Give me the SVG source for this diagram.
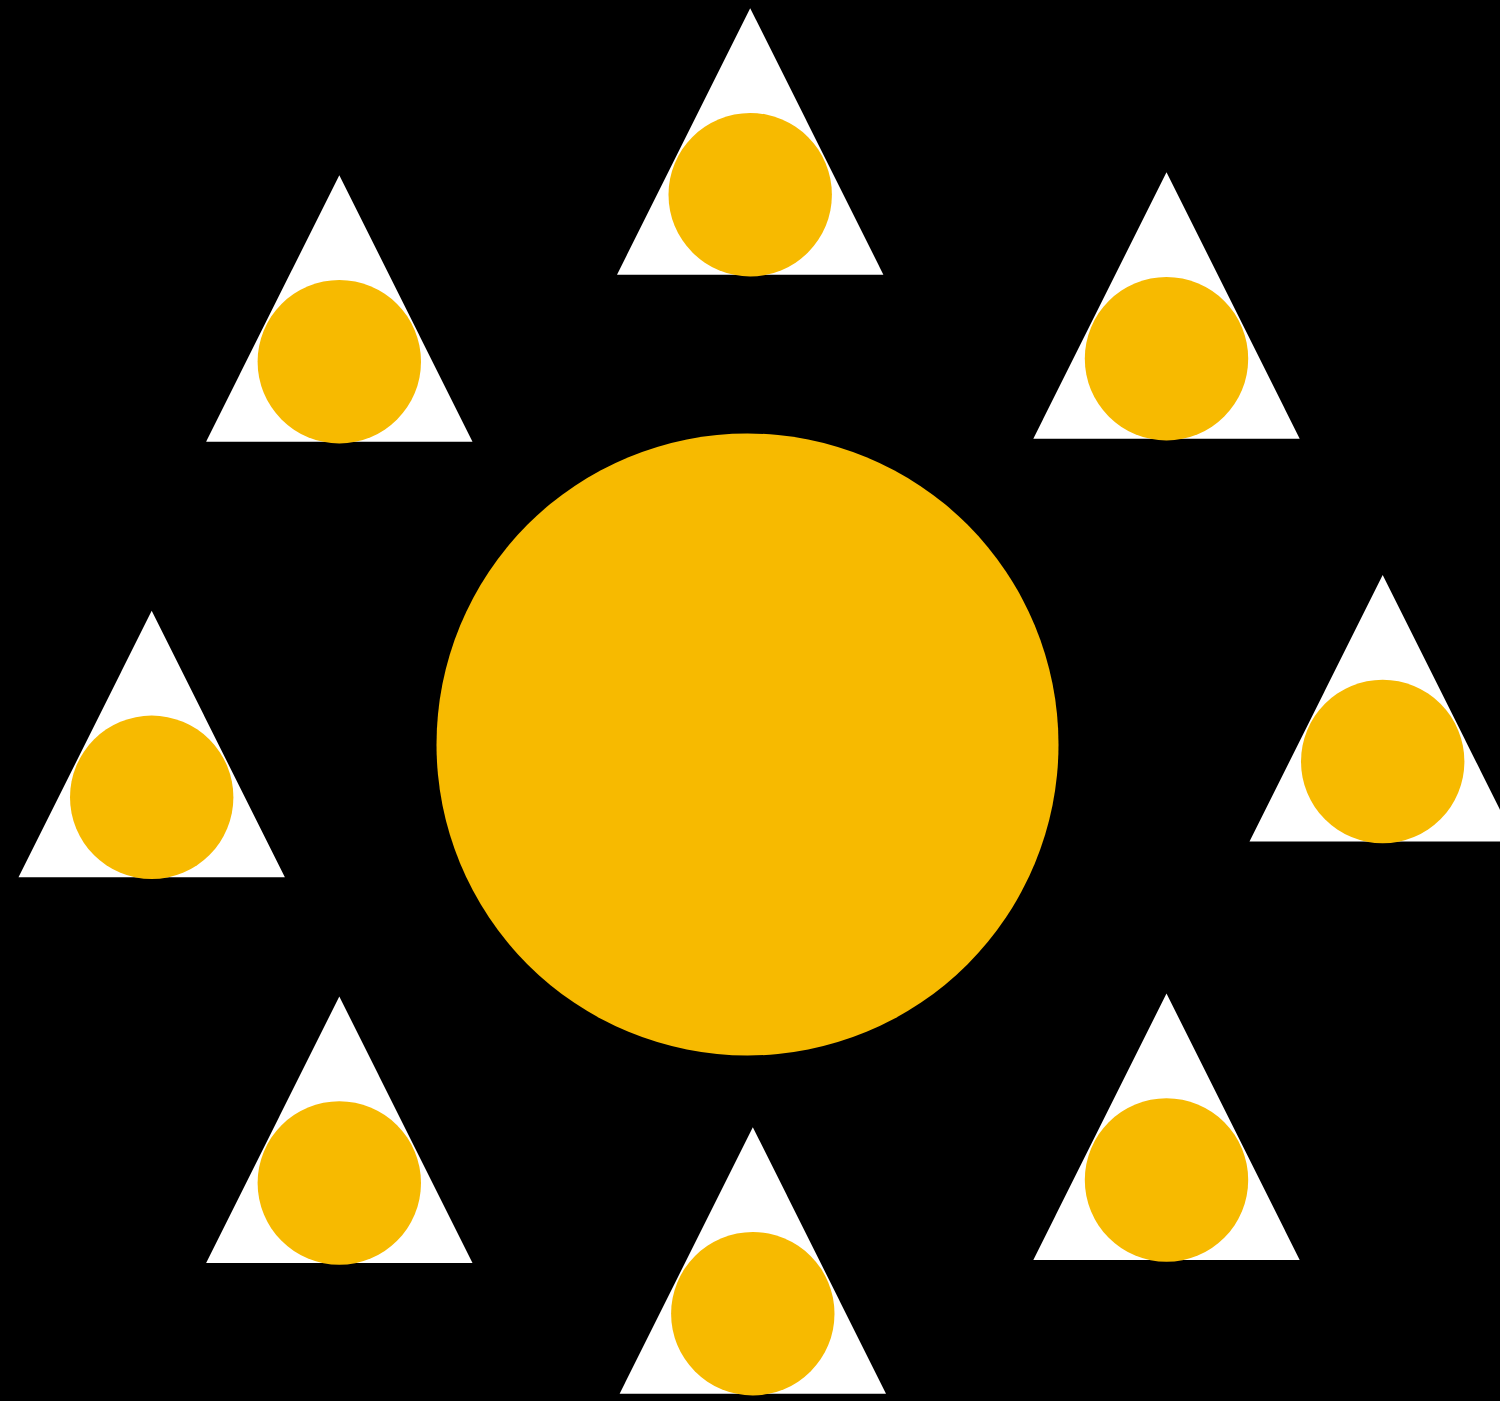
<svg xmlns="http://www.w3.org/2000/svg" width="1500" height="1401" viewBox="0 0 1500 1401">
<defs>
<style>
.tri{fill:#FFFFFF}
.dot{fill:#F7BA00}
</style>
<g id="unit">
<polygon class="tri" points="0,-186.5 133.2,80 -133.2,80"/>
<circle class="dot" cx="0" cy="0" r="81.7"/>
</g>
</defs>
<rect x="0" y="0" width="1500" height="1401" fill="#000000"/>
<g id="sun"><circle class="dot" cx="747.5" cy="744.5" r="311"/></g>
<g id="n-top"><use href="#unit" transform="translate(750.2,194.7)"/></g>
<g id="n-topleft"><use href="#unit" transform="translate(339.3,361.7)"/></g>
<g id="n-topright"><use href="#unit" transform="translate(1166.5,358.7)"/></g>
<g id="n-left"><use href="#unit" transform="translate(151.7,797.3)"/></g>
<g id="n-right"><use href="#unit" transform="translate(1382.7,761.5)"/></g>
<g id="n-bottomleft"><use href="#unit" transform="translate(339.3,1183)"/></g>
<g id="n-bottomright"><use href="#unit" transform="translate(1166.5,1180)"/></g>
<g id="n-bottom"><use href="#unit" transform="translate(752.8,1313.7)"/></g>
<g id="connectors"/>
</svg>
